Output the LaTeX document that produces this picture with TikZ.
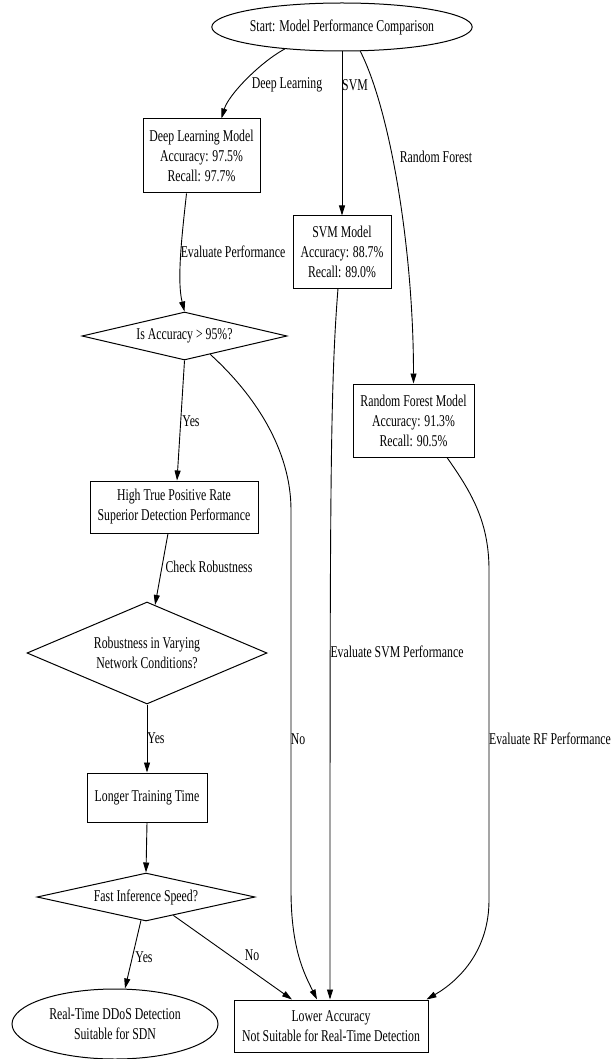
\documentclass[tikz,border=0pt]{standalone}
\usepackage{fontspec}
\setmainfont{Liberation Serif}[FakeStretch=0.715]
\usetikzlibrary{shapes.geometric,arrows.meta,calc}

\begin{document}
\begin{tikzpicture}[x=1pt,y=-1pt,
  every node/.style={font=\fontsize{16.5}{20}\selectfont, inner sep=0pt, align=center},
  box/.style={draw, rectangle, line width=1pt},
  choice/.style={draw, diamond, line width=1pt},
  oval/.style={draw, ellipse, line width=1pt},
  flow/.style={line width=0.9pt, -{Triangle[length=10pt,width=6pt]}}]
\useasboundingbox (0,0) rectangle (612,1059);

% nodes
\node[oval, minimum width=260pt, minimum height=48pt] (start) at (342,27) {Start: Model Performance Comparison};
\node[box, minimum width=117pt, minimum height=74pt] (dl) at (201.5,156) {Deep Learning Model\\Accuracy: 97.5\%\\Recall: 97.7\%};
\node[box, minimum width=98pt, minimum height=72pt] (svm) at (342,252) {SVM Model\\Accuracy: 88.7\%\\Recall: 89.0\%};
\node[choice, shape aspect=4.27, minimum width=205pt, minimum height=48pt] (isacc) at (184.5,336) {Is Accuracy > 95\%?};
\node[box, minimum width=121pt, minimum height=73pt] (rf) at (413.5,420.5) {Random Forest Model\\Accuracy: 91.3\%\\Recall: 90.5\%};
\node[box, minimum width=168pt, minimum height=52pt] (hightpr) at (174,507) {High True Positive Rate\\Superior Detection Performance};
\node[choice, shape aspect=2.35, minimum width=240pt, minimum height=102pt] (robust) at (147,653) {Robustness in Varying\\Network Conditions?};
\node[box, minimum width=120pt, minimum height=49pt] (longer) at (147,797.5) {Longer Training Time};
\node[choice, shape aspect=4.54, minimum width=218pt, minimum height=48pt] (fast) at (146,897) {Fast Inference Speed?};
\node[oval, minimum width=206pt, minimum height=70pt] (realtime) at (115,1024) {Real-Time DDoS Detection\\Suitable for SDN};
\node[box, minimum width=194pt, minimum height=52pt] (lower) at (331,1026) {Lower Accuracy\\Not Suitable for Real-Time Detection};

% connectors
\draw[flow] (start.201) .. controls +(-24,13) and +(7,-24) .. ($(dl.north)+(20,0)$);
\draw[flow] (start.south) -- (svm.north);
\draw[flow] (start.307) .. controls +(30,59) and +(0,-134) .. (rf.north);
\draw[flow] ($(dl.south)+(-15,0)$) .. controls +(-4,37) and +(-8,-32) .. (isacc.north);
\draw[flow] ($(svm.south)+(-4,0)$) .. controls +(-8,100) and +(0,-500) .. ($(lower.north)+(-1,0)$);
\draw[flow] (isacc.south) -- ($(hightpr.north)+(3,0)$);
\draw[flow] ($(isacc.south)!0.25!(isacc.east)$) .. controls (255,395) and (291,450) .. (291,510)
  -- (291,890) .. controls (291,950) and (305,975) .. ($(lower.north)+(-14,0)$);
\draw[flow] ($(rf.south)+(33.5,0)$) .. controls +(23,33) and (489,520) .. (489,570)
  -- (489,900) .. controls (489,950) and (460,980) .. ($(lower.north east)+(-2,0)$);
\draw[flow] ($(hightpr.south)+(-6,0)$) -- ($(robust.north)!0.067!(robust.east)$);
\draw[flow] (robust.south) -- (longer.north);
\draw[flow] (longer.south) -- (fast.north);
\draw[flow] ($(fast.south)!0.046!(fast.west)$) -- ($(realtime.north)+(10,0)$);
\draw[flow] ($(fast.south)!0.25!(fast.east)$) -- ($(lower.north)+(-39,0)$);

% connector labels
\node (ldl) at (287,85) {Deep Learning};
\node (lsvm) at (355,85) {SVM};
\node (lrf) at (436,157) {Random Forest};
\node (leval) at (233,252) {Evaluate Performance};
\node (lyes1) at (191,421) {Yes};
\node (lcheck) at (209,567) {Check Robustness};
\node (lyes2) at (156,738) {Yes};
\node (lsvmeval) at (397,652) {Evaluate SVM Performance};
\node (lno1) at (298,739) {No};
\node (lrfeval) at (550,739) {Evaluate RF Performance};
\node (lyes3) at (144,957) {Yes};
\node (lno2) at (252,955) {No};
\end{tikzpicture}
\end{document}
